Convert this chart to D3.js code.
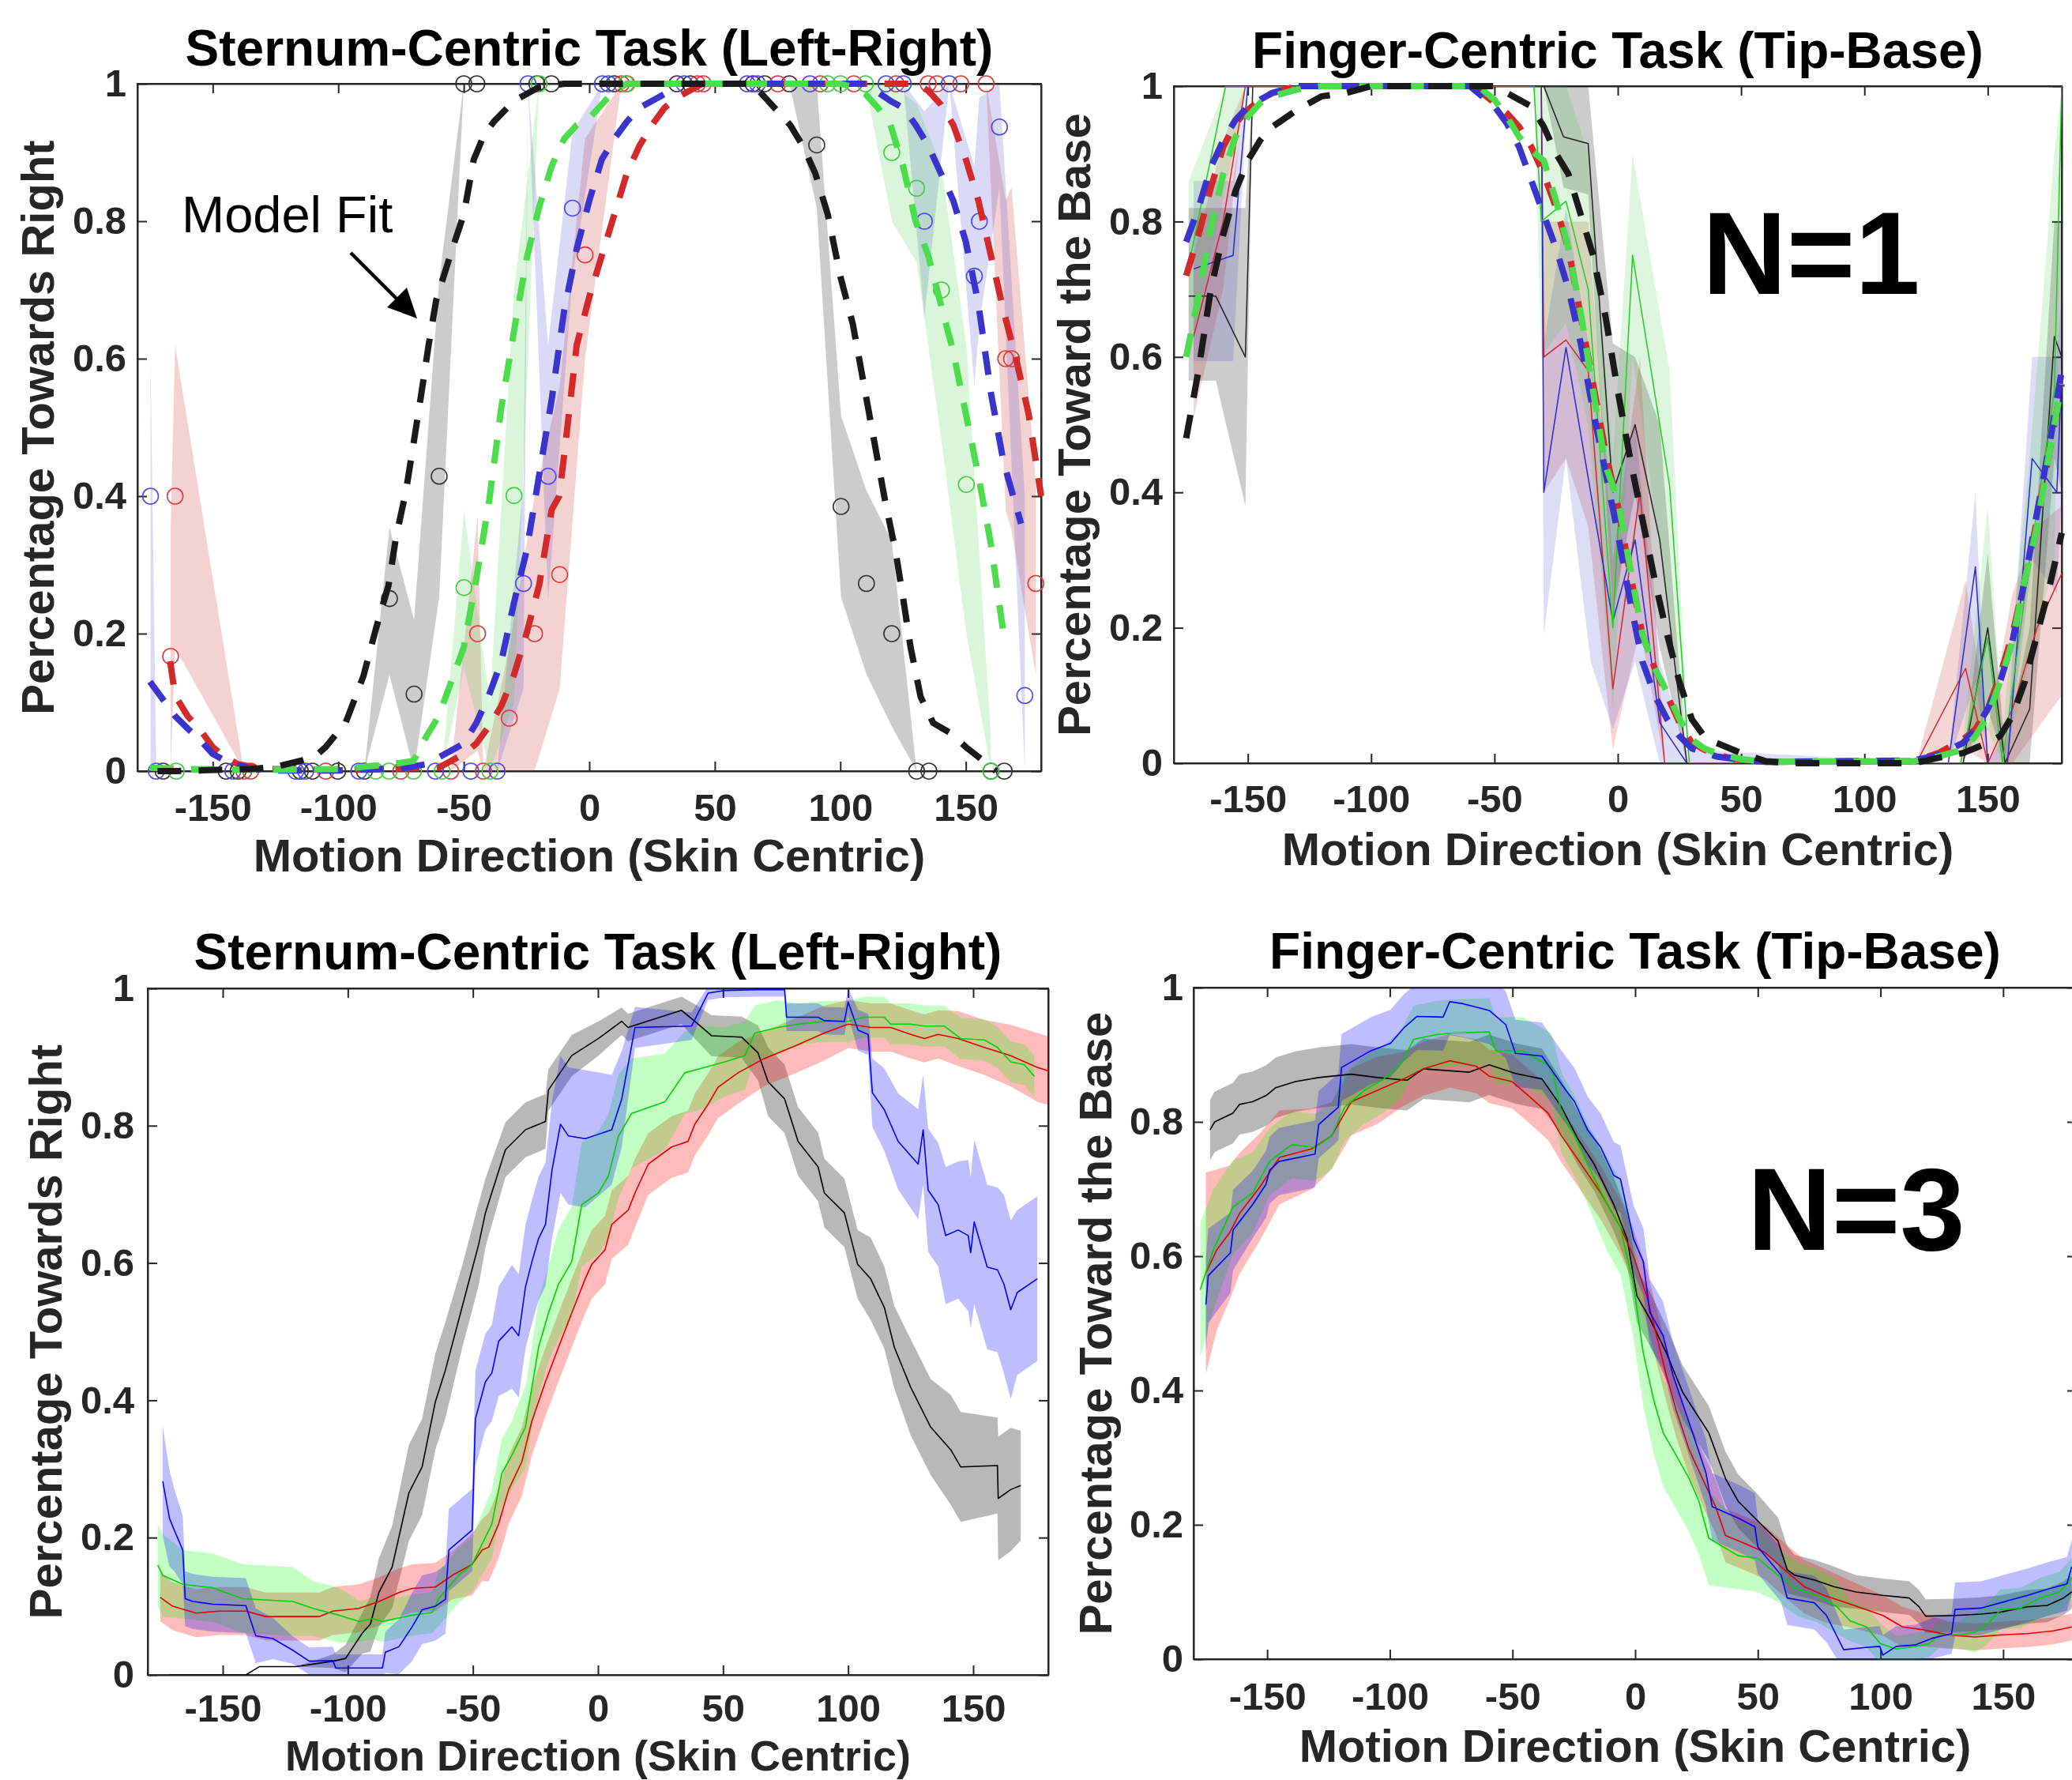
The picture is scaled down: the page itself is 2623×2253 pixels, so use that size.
<!DOCTYPE html>
<html><head><meta charset="utf-8">
<script src="https://cdn.jsdelivr.net/npm/d3@7"></script>
<style>body{margin:0;background:#fff}</style>
</head><body>
<svg id="c" width="2623" height="2253"></svg>
<script>
// ---------- text / ticks ----------
const xTicks = [-150,-100,-50,0,50,100,150];
const yTicks = [0,0.2,0.4,0.6,0.8,1];
const titles = ["Sternum-Centric Task (Left-Right)","Finger-Centric Task (Tip-Base)","Sternum-Centric Task (Left-Right)","Finger-Centric Task (Tip-Base)"];
const xLabel = "Motion Direction (Skin Centric)";
const yLabels = ["Percentage Towards Right","Percentage Toward the Base","Percentage Towards Right","Percentage Toward the Base"];
const annoText = ["N=1","N=3","Model Fit"];

// ---------- Panel 1 (Sternum, N=1): points, bands, model fits ----------
const p1BlackX = [-169.8,-144.7,-139.9,-115.1,-110.3,-100.2,-89.6,-79.6,-69.8,-59.8,-50,-44.8,-20.9,-15.1,9.9,34.9,40.2,65.2,69.8,79.7,90.6,100.3,110.4,120.5,130.4,135.3,160,165.3];
const p1BlackY = [0,0,0,0,0,0,0,0.251,0.112,0.429,1,1,1,1,1,1,1,1,1,1,0.911,0.385,0.273,0.2,0,0,0,0];
const p1BlackLo = [0,0,0,0,0,0,0,0.14,0,0.253,1,1,1,1,1,1,1,1,1,1,0.82,0.253,0.141,0.065,0,0,0,0];
const p1BlackHi = [0,0,0,0,0,0,0,0.355,0.22,0.714,1,1,1,1,1,1,1,1,1,1,1,0.517,0.408,0.335,0,0,0,0];

const p1BlueX = [-174.8,-172.5,-142,-116.9,-113,-91.8,-61.3,-47.2,-36.7,-26.2,-24.4,-16.4,-6.7,5.2,7.6,37.8,62.9,67,87.9,118.2,125.1,133.5,143.4,153.4,155.4,163.4,173.5];
const p1BlueY = [0.4,0,0,0,0,0,0,0,0,0.273,1,0.429,0.819,1,1,1,1,1,1,1,1,0.8,1,0.72,0.8,0.937,0.11];
const p1BlueLo = [0,0,0,0,0,0,0,0,0,0.12,1,0.25,0.72,1,1,1,1,1,1,1,1,0.66,1,0.56,0.65,0.85,0];
const p1BlueHi = [0.6,0,0,0,0,0,0,0,0,0.42,1,0.62,0.93,1,1,1,1,1,1,1,1,0.96,1,0.88,0.98,1,0.4];

const p1RedX = [-166.8,-165,-137.6,-134.9,-105,-75.1,-55.2,-44.5,-42.2,-31.9,-21.8,-11.8,-1.7,12.8,15,43.1,45.4,75.1,92,105.4,122.2,135,138.5,148,158.1,165.9,168.2,177.9];
const p1RedY = [0.167,0.4,0,0,0,0,0,0.2,0,0.077,0.2,0.286,0.751,1,1,1,1,1,1,1,1,1,1,1,1,0.6,0.6,0.273];
const p1RedLo = [0,0.18,0,0,0,0,0,0.03,0,0,0,0.12,0.6,1,1,1,1,1,1,1,1,1,1,1,1,0.38,0.35,0.14];
const p1RedHi = [0.35,0.62,0,0,0,0,0,0.37,0,0.18,0.4,0.56,0.92,1,1,1,1,1,1,1,1,1,1,1,1,0.83,0.85,0.42];

const p1GreenX = [-164.5,-85.1,-79.8,-70,-58.6,-49.9,-39.6,-30,-20,14.6,94.9,100.1,110,120.5,130.4,140.3,150.2,160];
const p1GreenY = [0,0,0,0,0,0.267,0,0.401,1,1,1,1,1,0.9,0.848,0.7,0.417,0];
const p1GreenLo = [0,0,0,0,0,0.15,0,0.1,1,1,1,1,1,0.8,0.74,0.48,0.2,0];
const p1GreenHi = [0,0,0,0,0,0.38,0.1,0.7,1,1,1,1,1,1,0.97,0.88,0.62,0.05];

const fit1BlackX = [-172,-165,-155,-145,-135,-125,-115,-109,-105,-97,-90,-85,-80,-77,-73,-70,-67,-64,-61,-58,-55,-50,-46,-42,-38,-30,-20,-10,0,65,70,75,80,85,90,95,100,105,110,115,118,122,125,128,132,137,144,150,157,162];
const fit1BlackY = [0,0,0.001,0.002,0.003,0.006,0.015,0.022,0.035,0.071,0.138,0.207,0.27,0.34,0.408,0.477,0.547,0.62,0.685,0.72,0.755,0.81,0.89,0.925,0.945,0.975,0.995,1,1,1,0.98,0.96,0.94,0.91,0.87,0.81,0.72,0.65,0.55,0.45,0.39,0.32,0.252,0.18,0.108,0.07,0.055,0.035,0.015,0];
const fit1GreenX = [-175,-160,-140,-120,-100,-85,-75,-70,-65,-60,-55,-50,-45,-40,-35,-30,-25,-20,-15,-10,-5,0,5,10,15,100,105,110,115,120,125,130,135,140,145,150,155,160,165];
const fit1GreenY = [0.005,0.003,0.002,0.002,0.003,0.008,0.012,0.015,0.05,0.08,0.13,0.18,0.28,0.39,0.53,0.64,0.745,0.82,0.88,0.92,0.94,0.95,0.97,0.99,1,1,0.995,0.985,0.965,0.94,0.88,0.8,0.75,0.68,0.61,0.52,0.43,0.33,0.2];
const fit1BlueX = [-175,-170,-165,-160,-155,-150,-145,-135,-125,-100,-75,-65,-60,-55,-50,-45,-40,-35,-30,-25,-20,-15,-10,-5,0,5,10,15,20,25,30,35,110,120,125,130,135,140,145,150,155,160,165,172];
const fit1BlueY = [0.13,0.105,0.08,0.062,0.045,0.025,0.015,0.003,0.001,0.001,0.004,0.01,0.02,0.03,0.04,0.07,0.11,0.16,0.245,0.32,0.43,0.54,0.67,0.76,0.83,0.89,0.92,0.945,0.965,0.975,0.985,1,1,0.975,0.965,0.94,0.91,0.87,0.83,0.77,0.68,0.55,0.45,0.36];
const fit1RedX = [-167,-165,-160,-155,-150,-145,-140,-130,-100,-60,-55,-50,-45,-40,-35,-30,-25,-20,-15,-12,-10,-5,0,5,10,15,20,25,30,35,40,45,130,135,140,145,150,155,160,165,170,175,180];
const fit1RedY = [0.16,0.11,0.08,0.06,0.035,0.02,0.01,0.003,0.002,0.005,0.015,0.025,0.04,0.065,0.095,0.14,0.2,0.27,0.38,0.4,0.46,0.62,0.69,0.75,0.81,0.87,0.91,0.94,0.965,0.98,0.99,1,1,0.99,0.97,0.94,0.89,0.83,0.75,0.67,0.6,0.52,0.4];

// ---------- Panel 2 (Finger, N=1) ----------
const p2BlackX = [-174,-163,-151,-148,-30,-22,-12,-2,7,17,28,140,150,157,167,177,180];
const p2BlackY = [0.69,0.69,0.6,1,1,0.925,0.915,0.4,0.5,0.33,0,0,0.2,0,0.08,0.63,0.6];
const p2BlackLo = [0.565,0.565,0.38,1,1,0.85,0.84,0.22,0.4,0.17,0,0,0.08,0,0,0.45,0.4];
const p2BlackHi = [0.82,0.82,0.82,1,1,1,1,0.62,0.6,0.5,0,0,0.31,0.02,0.2,0.8,0.8];
const p2BlueX = [-172,-156,-150,-31,-30,-21,-11,-2,7,17,28,134,145,150,158,168,178,180];
const p2BlueY = [0.73,0.75,1,1,0.4,0.614,0.4,0.21,0.33,0.06,0,0,0.29,0,0,0.45,0.4,0.58];
const p2BlueLo = [0.594,0.594,1,1,0.19,0.45,0.15,0.05,0.15,0,0,0,0.12,0,0,0.3,0.25,0.4];
const p2BlueHi = [0.86,0.86,1,1,0.62,0.82,0.6,0.4,0.5,0.15,0.02,0,0.4,0,0.05,0.6,0.6,0.7];
const p2RedX = [-172,-160,-151,-31,-30,-21,-12,-2,9,19,121,141,150,160,170,180];
const p2RedY = [0.63,0.8,1,1,0.6,0.625,0.58,0.11,0.4,0,0,0.14,0,0.08,0.2,0.28];
const p2RedLo = [0.51,0.7,1,1,0.4,0.45,0.35,0.02,0.2,0,0,0.02,0,0,0.05,0.1];
const p2RedHi = [0.75,0.92,1,1,0.8,0.8,0.8,0.3,0.6,0,0,0.27,0.05,0.25,0.35,0.38];
const p2GreenX = [-174,-159,-150,-34,-31,-21,-12,-2,6,21,29,139,150,156,167,177,180];
const p2GreenY = [0.735,1,1,1,0.8,0.83,0.7,0.2,0.75,0.41,0,0,0.185,0,0.3,0.55,1];
const p2GreenLo = [0.6,0.85,1,1,0.6,0.65,0.5,0.08,0.6,0.22,0,0,0.05,0,0.15,0.3,0.9];
const p2GreenHi = [0.86,1,1,1,1,1,0.9,0.45,0.9,0.58,0,0,0.38,0.05,0.45,0.9,1];

const fit2BlackX = [-175,-170,-165,-160,-155,-150,-145,-140,-130,-120,-110,-100,-50,-45,-40,-35,-30,-25,-20,-15,-10,-5,0,5,10,15,20,25,30,35,40,50,60,70,120,130,140,150,155,160,165,170,175,180];
const fit2BlackY = [0.48,0.58,0.7,0.78,0.845,0.89,0.92,0.94,0.965,0.985,0.99,1,1,0.99,0.98,0.97,0.94,0.9,0.87,0.81,0.75,0.66,0.55,0.45,0.36,0.27,0.19,0.12,0.065,0.04,0.03,0.015,0.003,0,0,0.008,0.015,0.03,0.04,0.07,0.12,0.19,0.26,0.34];
const fit2X = [-175,-170,-165,-160,-155,-150,-145,-140,-130,-120,-60,-55,-50,-45,-40,-35,-30,-25,-20,-15,-10,-5,0,5,10,15,20,25,30,35,40,50,60,120,130,140,145,150,155,160,165,170,175,180];
const fit2GreenY = [0.6,0.69,0.79,0.87,0.925,0.955,0.975,0.985,0.995,1,1,0.995,0.98,0.955,0.925,0.905,0.89,0.83,0.76,0.665,0.55,0.44,0.39,0.29,0.19,0.14,0.105,0.065,0.035,0.022,0.015,0.006,0.002,0.003,0.01,0.02,0.04,0.07,0.12,0.18,0.27,0.35,0.46,0.56];
const fit2RedY = [0.72,0.78,0.85,0.91,0.945,0.965,0.98,0.99,1,1,1,0.99,0.975,0.96,0.94,0.91,0.87,0.82,0.76,0.66,0.56,0.46,0.38,0.28,0.19,0.14,0.1,0.06,0.03,0.02,0.012,0.005,0.002,0.003,0.015,0.035,0.05,0.08,0.13,0.19,0.27,0.36,0.46,0.56];
const fit2BlueY = [0.77,0.82,0.88,0.92,0.95,0.97,0.98,0.99,1,1,1,0.985,0.97,0.945,0.91,0.86,0.81,0.76,0.7,0.62,0.52,0.43,0.34,0.24,0.15,0.1,0.065,0.04,0.022,0.015,0.01,0.005,0.002,0.004,0.012,0.03,0.05,0.08,0.12,0.18,0.27,0.37,0.47,0.58];

// ---------- Panel 3 (Sternum, N=3): mean and half-width of band ----------
const p3BlackX = [-171.3,-140.8,-135.4,-120.8,-106,-100.9,-94.2,-91,-87.6,-82.3,-75.6,-70.3,-65,-61,-54.3,-47.7,-45,-37,-29,-21,-19.8,-10.5,0.2,9.5,12,33.4,38.7,45.4,57.4,64,68,74.6,80,88,90.5,98.5,103.8,109,114.5,118.5,125,133,141,145,159.7,160,165,169];
const p3BlackY = [0,0,0.012,0.012,0.02,0.024,0.061,0.074,0.12,0.157,0.265,0.303,0.398,0.444,0.536,0.627,0.673,0.765,0.794,0.806,0.852,0.902,0.927,0.952,0.943,0.968,0.952,0.931,0.929,0.906,0.864,0.839,0.777,0.74,0.702,0.673,0.598,0.577,0.535,0.477,0.419,0.361,0.328,0.303,0.305,0.257,0.27,0.276];
const p3BlackD = [0,0,0,0,0.01,0.02,0.03,0.04,0.05,0.06,0.07,0.07,0.07,0.07,0.06,0.06,0.05,0.04,0.04,0.04,0.03,0.03,0.025,0.02,0.02,0.02,0.025,0.03,0.03,0.04,0.05,0.05,0.05,0.05,0.05,0.05,0.05,0.06,0.06,0.06,0.07,0.07,0.08,0.08,0.07,0.09,0.09,0.08];
const p3BlueX = [-174,-171.3,-169.4,-166,-165,-162,-154,-140.8,-136.8,-130,-122,-115.4,-106,-104.8,-86.2,-85,-79.6,-74.3,-70.3,-65,-61,-59.6,-50.3,-49,-45,-42.4,-39.7,-34.4,-31.7,-29,-26.4,-23.7,-21,-18.4,-15,-11.8,-5.1,5.5,9.5,14.8,37.4,44,50.7,64,74.6,75.4,88,90.5,98.5,100,104,108,109.7,114.5,120,128,130,132,136,139,144,148,149,150.4,155.6,159.7,162.3,165,167.6,175.6];
const p3BlueY = [0.282,0.228,0.211,0.182,0.111,0.107,0.103,0.101,0.057,0.053,0.036,0.02,0.021,0.01,0.01,0.033,0.041,0.07,0.095,0.1,0.11,0.182,0.211,0.373,0.427,0.44,0.486,0.507,0.494,0.565,0.602,0.636,0.656,0.735,0.802,0.785,0.781,0.794,0.839,0.943,0.945,0.993,0.997,0.998,0.998,0.958,0.958,0.953,0.952,0.98,0.939,0.933,0.848,0.823,0.777,0.744,0.794,0.706,0.685,0.64,0.648,0.64,0.615,0.66,0.594,0.59,0.569,0.532,0.557,0.577];
const p3BlueD = [0.08,0.07,0.06,0.05,0.04,0.04,0.04,0.04,0.04,0.03,0.02,0.02,0.02,0.02,0.02,0.03,0.04,0.05,0.05,0.05,0.05,0.06,0.06,0.07,0.07,0.07,0.08,0.09,0.09,0.09,0.09,0.09,0.09,0.1,0.1,0.1,0.1,0.08,0.07,0.03,0.02,0.01,0.01,0.01,0.01,0.02,0.02,0.02,0.02,0.02,0.03,0.03,0.05,0.06,0.07,0.08,0.08,0.09,0.09,0.1,0.1,0.11,0.11,0.12,0.12,0.12,0.13,0.13,0.12,0.12];
const p3GreenX = [-176,-174,-166,-154,-142,-122,-114,-103.5,-95.5,-90,-86.2,-74.3,-66.3,-63.7,-55.7,-50.3,-42.4,-38.4,-34.4,-29,-26.4,-23.7,-19.8,-15.8,-10.5,-6.5,0.2,4.2,8.2,13.5,26.8,34.7,42.7,50.7,58.7,62.7,72,80,90.5,100,106.5,114.5,117,125,130.5,138.5,145,154.4,159.7,165,170.4,174.4];
const p3GreenY = [0.16,0.145,0.132,0.127,0.111,0.107,0.097,0.087,0.078,0.082,0.078,0.087,0.091,0.111,0.145,0.161,0.22,0.294,0.32,0.361,0.419,0.478,0.527,0.569,0.602,0.685,0.702,0.727,0.785,0.818,0.835,0.877,0.885,0.893,0.902,0.935,0.943,0.948,0.952,0.952,0.958,0.958,0.948,0.948,0.945,0.945,0.927,0.925,0.914,0.893,0.889,0.872];
const p3GreenD = [0.06,0.06,0.05,0.05,0.05,0.05,0.04,0.04,0.03,0.03,0.03,0.03,0.03,0.04,0.04,0.04,0.05,0.05,0.05,0.06,0.06,0.07,0.07,0.08,0.08,0.09,0.09,0.09,0.09,0.08,0.07,0.06,0.06,0.05,0.05,0.04,0.04,0.03,0.03,0.03,0.03,0.03,0.03,0.03,0.03,0.03,0.03,0.03,0.03,0.03,0.03,0.03];
const p3RedX = [-175,-170,-160.7,-151.4,-140.8,-132.8,-111.5,-106,-95.5,-87.5,-79.6,-74.3,-65,-58.3,-50.3,-46.3,-43.7,-39.7,-35.7,-30.4,-26.4,-21,-15.8,-10.5,-5.1,-2.5,2.8,5.5,12.1,14.8,20.1,29.4,36,38.7,44,48,56,66.6,80,90.5,100,109.2,117,125,130.5,136,144,154.4,165,175.6,180];
const p3RedY = [0.113,0.1,0.09,0.093,0.093,0.085,0.085,0.093,0.097,0.107,0.12,0.126,0.128,0.145,0.161,0.182,0.186,0.22,0.27,0.311,0.37,0.427,0.477,0.527,0.577,0.598,0.619,0.656,0.677,0.702,0.744,0.769,0.777,0.802,0.831,0.856,0.877,0.898,0.918,0.935,0.948,0.943,0.943,0.933,0.927,0.933,0.927,0.914,0.902,0.885,0.88];
const p3RedD = [0.035,0.035,0.035,0.035,0.035,0.035,0.035,0.035,0.035,0.035,0.035,0.035,0.035,0.035,0.045,0.045,0.05,0.05,0.05,0.05,0.05,0.05,0.05,0.05,0.05,0.05,0.05,0.05,0.05,0.05,0.045,0.045,0.045,0.045,0.045,0.045,0.045,0.04,0.04,0.04,0.035,0.035,0.035,0.035,0.035,0.035,0.04,0.04,0.045,0.05,0.05];

// ---------- Panel 4 (Finger, N=3) ----------
const p4BlackX = [-173.3,-171.4,-164,-161.3,-156,-150.5,-146.5,-138.5,-129,-115.7,-105,-93,-86.3,-67.6,-59.5,-48.8,-38,-30,-23.4,-16.7,-8.7,-3.3,0.7,6,12.7,19.4,30,36.8,42,48.8,58.2,62,65,73,81,90,100.9,111.7,115.7,118.4,130.4,141,149,160,168,174.6,178];
const p4BlackY = [0.788,0.8,0.813,0.826,0.83,0.839,0.851,0.86,0.866,0.871,0.866,0.862,0.879,0.874,0.885,0.872,0.864,0.822,0.775,0.737,0.677,0.626,0.541,0.507,0.456,0.397,0.337,0.269,0.235,0.21,0.176,0.133,0.125,0.118,0.108,0.1,0.095,0.091,0.078,0.064,0.065,0.067,0.07,0.078,0.08,0.091,0.1];
const p4BlackD = [0.045,0.045,0.045,0.045,0.045,0.045,0.045,0.045,0.045,0.045,0.045,0.045,0.045,0.045,0.045,0.045,0.045,0.04,0.04,0.04,0.04,0.04,0.04,0.04,0.04,0.04,0.04,0.04,0.04,0.04,0.035,0.035,0.03,0.03,0.03,0.025,0.025,0.025,0.025,0.025,0.025,0.025,0.025,0.025,0.025,0.025,0.025];
const p4BlueX = [-175,-174,-165,-163.9,-155.9,-150.5,-149,-145.2,-130.5,-129,-121,-119.7,-107.7,-99.7,-94.3,-89,-78.3,-75.6,-70.2,-59.5,-52.8,-48.8,-38,-30,-24.7,-19.4,-14,-8.7,-6,-0.7,3.3,6,11.4,15.4,19.4,23.4,28.8,31.4,42,48.8,50,59.5,62,73,78,85,93,99.7,101,106.4,114,121,129,130.4,141,152,160,168,176,178];
const p4BlueY = [0.528,0.571,0.605,0.639,0.677,0.707,0.728,0.741,0.752,0.796,0.822,0.881,0.906,0.917,0.94,0.957,0.956,0.979,0.976,0.966,0.945,0.902,0.898,0.856,0.83,0.788,0.762,0.72,0.715,0.626,0.592,0.516,0.482,0.423,0.38,0.337,0.278,0.227,0.21,0.197,0.167,0.125,0.091,0.084,0.065,0.014,0.017,0.019,0.006,0.019,0.021,0.031,0.038,0.074,0.076,0.087,0.095,0.104,0.112,0.138];
const p4BlueD = [0.07,0.07,0.06,0.06,0.05,0.05,0.05,0.05,0.05,0.05,0.05,0.05,0.05,0.05,0.05,0.05,0.05,0.05,0.05,0.05,0.05,0.05,0.05,0.05,0.05,0.05,0.05,0.05,0.05,0.05,0.05,0.05,0.05,0.05,0.05,0.05,0.05,0.05,0.05,0.05,0.04,0.04,0.04,0.04,0.04,0.03,0.03,0.03,0.03,0.03,0.03,0.03,0.03,0.04,0.04,0.04,0.04,0.04,0.04,0.04];
const p4GreenX = [-177.3,-172,-164,-156,-149,-140,-130.5,-123.8,-118.4,-110.4,-102.4,-95.7,-90.3,-81,-75.6,-59.5,-56.8,-46,-38,-34,-30,-24.7,-19.4,-11.4,-6,-0.7,3.3,7.4,11.4,15.4,22,26,30,42,50,58.2,66.2,74.3,82.3,87.6,94.3,100,106.4,114.4,119.8,123.8,131.8,138.5,143.8,149,157,165,173,178];
const p4GreenY = [0.55,0.609,0.673,0.694,0.741,0.766,0.762,0.779,0.822,0.847,0.864,0.885,0.923,0.93,0.932,0.934,0.906,0.906,0.89,0.881,0.813,0.779,0.737,0.677,0.643,0.558,0.456,0.388,0.337,0.312,0.269,0.235,0.18,0.154,0.15,0.125,0.104,0.095,0.078,0.057,0.048,0.023,0.015,0.019,0.023,0.036,0.036,0.04,0.053,0.074,0.076,0.091,0.1,0.121];
const p4GreenD = [0.1,0.09,0.07,0.06,0.05,0.05,0.05,0.05,0.05,0.05,0.05,0.05,0.05,0.05,0.05,0.05,0.05,0.05,0.05,0.05,0.06,0.06,0.06,0.07,0.07,0.08,0.08,0.08,0.08,0.08,0.08,0.08,0.07,0.05,0.05,0.04,0.04,0.04,0.04,0.03,0.03,0.03,0.02,0.02,0.02,0.02,0.02,0.03,0.03,0.03,0.03,0.03,0.03,0.03];
const p4RedX = [-175,-170.6,-165.3,-161.2,-153,-145,-131.8,-123.8,-115.7,-105,-94.3,-86.3,-75.6,-64.9,-59.5,-50.2,-43.5,-35.5,-30,-22,-14,-6,-0.7,4.7,8.7,12.7,16.7,22,27.4,32.8,36.8,44.8,52.8,60.9,68.9,77,87.6,101,109,117,127.7,138.5,149,160,170.5,178];
const p4RedY = [0.575,0.609,0.635,0.664,0.703,0.747,0.76,0.779,0.83,0.847,0.864,0.879,0.891,0.883,0.868,0.86,0.839,0.813,0.779,0.737,0.694,0.643,0.6,0.541,0.482,0.423,0.371,0.312,0.269,0.227,0.184,0.172,0.159,0.133,0.108,0.095,0.082,0.065,0.048,0.044,0.036,0.033,0.036,0.038,0.042,0.048];
const p4RedD = [0.15,0.12,0.1,0.09,0.08,0.07,0.06,0.05,0.05,0.05,0.04,0.04,0.04,0.04,0.04,0.04,0.04,0.04,0.04,0.04,0.04,0.04,0.04,0.04,0.04,0.04,0.04,0.04,0.04,0.04,0.04,0.04,0.04,0.04,0.04,0.04,0.035,0.03,0.03,0.025,0.02,0.02,0.02,0.02,0.02,0.02];

// ---------- drawing ----------
const FONT = '"Liberation Sans", Arial, Helvetica, sans-serif';
const INK = "#262626";
const svg = d3.select("#c");
svg.append("rect").attr("width",2623).attr("height",2253).attr("fill","#fff");

const layout = [
  {l:174, r:1318, t:106, b:976, titleY:83, xtickBase:1039, xlabBase:1103, xlabSize:58, ylabX:68, ytickX:160},
  {l:1486, r:2610, t:109, b:966, titleY:86, xtickBase:1028, xlabBase:1095, xlabSize:58, ylabX:1380, ytickX:1472},
  {l:187, r:1327, t:1251, b:2120, titleY:1227, xtickBase:2179, xlabBase:2241, xlabSize:54, ylabX:78, ytickX:170},
  {l:1511, r:2629, t:1250, b:2100, titleY:1226, xtickBase:2164, xlabBase:2230, xlabSize:58, ylabX:1407, ytickX:1498}
];

function zipPts(xs, ys, los, his){
  const n = Math.min(xs.length, ys.length, los ? los.length : 1e9, his ? his.length : 1e9);
  const out = [];
  for (let i=0;i<n;i++) out.push({x:xs[i], y:ys[i], lo: los?los[i]:ys[i], hi: his?his[i]:ys[i]});
  return out;
}
function zipD(xs, ys, ds){
  const n = Math.min(xs.length, ys.length, ds.length);
  const out = [];
  for (let i=0;i<n;i++) out.push({x:xs[i], y:ys[i], lo:ys[i]-ds[i], hi:ys[i]+ds[i]});
  return out;
}

function makeAxes(i){
  const L = layout[i];
  const x = d3.scaleLinear().domain([-180,180]).range([L.l, L.r]);
  const y = d3.scaleLinear().domain([0,1]).range([L.b, L.t]);
  const g = svg.append("g");
  g.append("rect").attr("x",L.l).attr("y",L.t).attr("width",L.r-L.l).attr("height",L.b-L.t)
    .attr("fill","none").attr("stroke",INK).attr("stroke-width",2);
  const fmt = d => String(d);
  const ax = [
    [d3.axisBottom(x).tickValues(xTicks).tickFormat(fmt).tickSizeInner(-12).tickSizeOuter(0).tickPadding(L.xtickBase - L.b - 35), `translate(0,${L.b})`],
    [d3.axisTop(x).tickValues(xTicks).tickFormat("").tickSizeInner(-12).tickSizeOuter(0), `translate(0,${L.t})`],
    [d3.axisLeft(y).tickValues(yTicks).tickFormat(fmt).tickSizeInner(-12).tickSizeOuter(0).tickPadding(L.l - L.ytickX), `translate(${L.l},0)`],
    [d3.axisRight(y).tickValues(yTicks).tickFormat("").tickSizeInner(-12).tickSizeOuter(0), `translate(${L.r},0)`]
  ];
  ax.forEach(([a, tr]) => {
    const ag = g.append("g").attr("transform", tr).call(a);
    ag.select(".domain").attr("stroke",INK).attr("stroke-width",2);
    ag.selectAll(".tick line").attr("stroke",INK).attr("stroke-width",2);
    ag.selectAll(".tick text").attr("font-family",FONT).attr("font-size",49).attr("font-weight","bold").attr("fill",INK);
  });
  g.selectAll("g").attr("font-family",null).attr("font-size",null);
  svg.append("text").attr("x",(L.l+L.r)/2).attr("y",L.titleY).attr("text-anchor","middle")
    .attr("font-family",FONT).attr("font-size",64).attr("font-weight","bold").attr("fill","#000").text(titles[i]);
  svg.append("text").attr("x",(L.l+L.r)/2).attr("y",L.xlabBase).attr("text-anchor","middle")
    .attr("font-family",FONT).attr("font-size",L.xlabSize).attr("font-weight","bold").attr("fill",INK).text(xLabel);
  svg.append("text").attr("transform",`translate(${L.ylabX},${(L.t+L.b)/2}) rotate(-90)`).attr("text-anchor","middle")
    .attr("font-family",FONT).attr("font-size",58).attr("font-weight","bold").attr("fill",INK).text(yLabels[i]);
  const cid = "clip"+i;
  svg.append("clipPath").attr("id",cid).append("rect").attr("x",L.l).attr("y",L.t).attr("width",L.r-L.l).attr("height",L.b-L.t);
  return {x, y, cid};
}

function band(A, pts, color, op){
  const area = d3.area().x(d=>A.x(d.x)).y0(d=>A.y(d.lo)).y1(d=>A.y(d.hi));
  svg.append("path").attr("clip-path",`url(#${A.cid})`).attr("d",area(pts)).attr("fill",color).attr("fill-opacity",op).attr("stroke","none");
}
function thin(A, pts, color, w){
  const line = d3.line().x(d=>A.x(d.x)).y(d=>A.y(d.y));
  svg.append("path").attr("clip-path",`url(#${A.cid})`).attr("d",line(pts)).attr("fill","none").attr("stroke",color).attr("stroke-width",w).attr("stroke-linejoin","round");
}
function fit(A, xs, ys, color){
  const pts = zipPts(xs, ys);
  const line = d3.line().x(d=>A.x(d.x)).y(d=>A.y(d.y));
  svg.append("path").attr("d",line(pts)).attr("fill","none").attr("stroke",color).attr("stroke-width",8)
    .attr("stroke-dasharray","30,22").attr("stroke-linejoin","round");
}
function marks(A, pts, color){
  svg.append("g").selectAll("circle").data(pts).join("circle")
    .attr("cx",d=>A.x(d.x)).attr("cy",d=>A.y(d.y)).attr("r",10)
    .attr("fill","none").attr("stroke",color).attr("stroke-width",1.6);
}

const COL = {
  kFill:"#000000", rFill:"#cc3333", bFill:"#3333cc", gFill:"#33cc33",
  kFit:"#1a1a1a", rFit:"#d22a2a", bFit:"#3a34cc", gFit:"#4ddc4d",
  kMark:"#333333", rMark:"#e03a3a", bMark:"#4a4aee", gMark:"#44cc44"
};

// ----- Panel 1 -----
{
  const A = makeAxes(0);
  const K = zipPts(p1BlackX,p1BlackY,p1BlackLo,p1BlackHi);
  const R = zipPts(p1RedX,p1RedY,p1RedLo,p1RedHi);
  const B = zipPts(p1BlueX,p1BlueY,p1BlueLo,p1BlueHi);
  const G = zipPts(p1GreenX,p1GreenY,p1GreenLo,p1GreenHi);
  band(A,K,COL.kFill,0.2); band(A,R,COL.rFill,0.22); band(A,B,COL.bFill,0.18); band(A,G,COL.gFill,0.18);
  marks(A,K,COL.kMark); marks(A,R,COL.rMark); marks(A,B,COL.bMark); marks(A,G,COL.gMark);
  fit(A,fit1RedX,fit1RedY,COL.rFit); fit(A,fit1BlueX,fit1BlueY,COL.bFit);
  fit(A,fit1GreenX,fit1GreenY,COL.gFit); fit(A,fit1BlackX,fit1BlackY,COL.kFit);
  svg.append("text").attr("x",230).attr("y",294).attr("font-family",FONT).attr("font-size",65).attr("fill","#000").text(annoText[2]);
  svg.append("line").attr("x1",444).attr("y1",320).attr("x2",505).attr("y2",381).attr("stroke","#000").attr("stroke-width",4.5);
  svg.append("path").attr("d","M528,403 L490,389 L515,364 Z").attr("fill","#000");
}
// ----- Panel 2 -----
{
  const A = makeAxes(1);
  const K = zipPts(p2BlackX,p2BlackY,p2BlackLo,p2BlackHi);
  const R = zipPts(p2RedX,p2RedY,p2RedLo,p2RedHi);
  const B = zipPts(p2BlueX,p2BlueY,p2BlueLo,p2BlueHi);
  const G = zipPts(p2GreenX,p2GreenY,p2GreenLo,p2GreenHi);
  band(A,K,COL.kFill,0.2); band(A,R,COL.rFill,0.2); band(A,B,COL.bFill,0.17); band(A,G,COL.gFill,0.17);
  thin(A,K,"#222",1.5); thin(A,R,"#d02828",1.5); thin(A,B,"#2828d0",1.5); thin(A,G,"#28c828",1.5);
  fit(A,fit2X,fit2RedY,COL.rFit); fit(A,fit2X,fit2BlueY,COL.bFit);
  fit(A,fit2X,fit2GreenY,COL.gFit); fit(A,fit2BlackX,fit2BlackY,COL.kFit);
  svg.append("text").attr("x",2155).attr("y",372).attr("font-family",FONT).attr("font-size",148).attr("font-weight","bold").attr("fill","#000").text(annoText[0]);
}
// ----- Panel 3 -----
{
  const A = makeAxes(2);
  const K = zipD(p3BlackX,p3BlackY,p3BlackD), R = zipD(p3RedX,p3RedY,p3RedD), G = zipD(p3GreenX,p3GreenY,p3GreenD), B = zipD(p3BlueX,p3BlueY,p3BlueD);
  band(A,K,"#000",0.28); band(A,R,"#ff0000",0.27); band(A,G,"#00ff00",0.24); band(A,B,"#0000ff",0.26);
  thin(A,K,"#000",1.6); thin(A,R,"#e00000",1.6); thin(A,G,"#00d000",1.6); thin(A,B,"#0000ff",1.6);
}
// ----- Panel 4 -----
{
  const A = makeAxes(3);
  const K = zipD(p4BlackX,p4BlackY,p4BlackD), R = zipD(p4RedX,p4RedY,p4RedD), G = zipD(p4GreenX,p4GreenY,p4GreenD), B = zipD(p4BlueX,p4BlueY,p4BlueD);
  band(A,K,"#000",0.28); band(A,R,"#ff0000",0.27); band(A,G,"#00ff00",0.24); band(A,B,"#0000ff",0.26);
  thin(A,K,"#000",1.6); thin(A,R,"#e00000",1.6); thin(A,G,"#00d000",1.6); thin(A,B,"#0000ff",1.6);
  svg.append("text").attr("x",2212).attr("y",1582).attr("font-family",FONT).attr("font-size",148).attr("font-weight","bold").attr("fill","#000").text(annoText[1]);
}
</script>
</body></html>
